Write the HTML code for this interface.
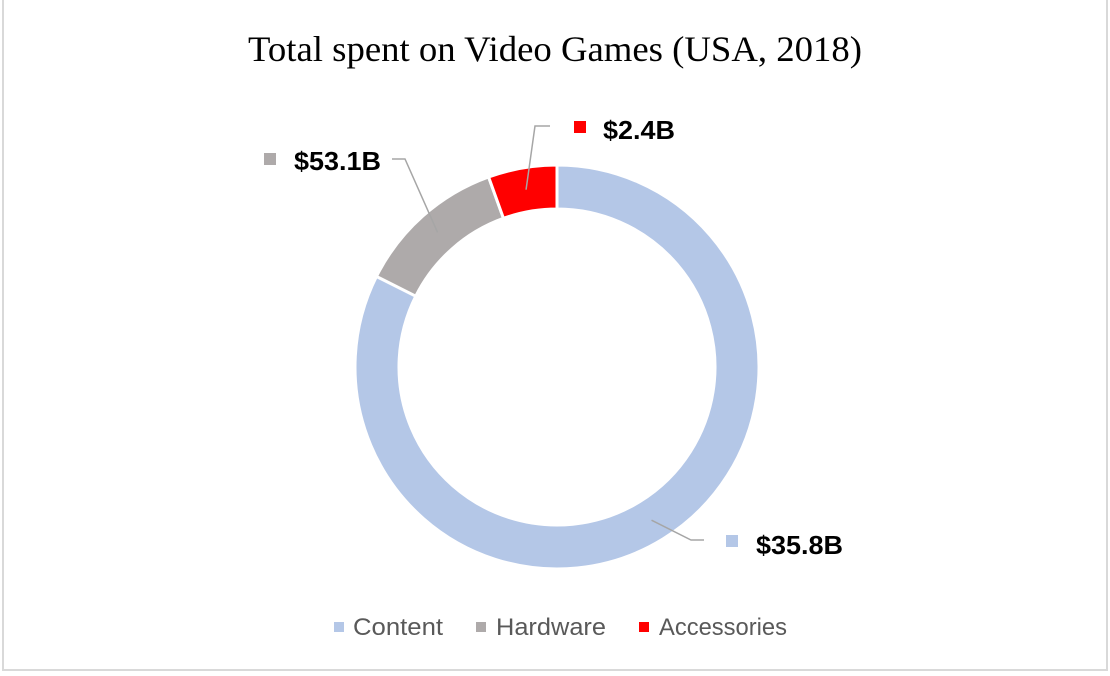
<!DOCTYPE html>
<html><head><meta charset="utf-8">
<style>
html,body{margin:0;padding:0;background:#fff;width:1110px;height:676px;overflow:hidden}
svg{display:block}
</style></head>
<body>
<svg id="chart" width="1110" height="676" viewBox="0 0 1110 676" xmlns="http://www.w3.org/2000/svg">
  <rect x="3" y="-2" width="1104" height="672" fill="#fff" stroke="#d9d9d9" stroke-width="2"/>
  <text x="248" y="61" textLength="614" lengthAdjust="spacingAndGlyphs" font-family="Liberation Serif, serif" font-size="36" fill="#000">Total spent on Video Games (USA, 2018)</text>
  <g id="slices"></g>
  <g id="leaders"></g>
  <g id="labels"></g>
  <g id="legend"></g>
</svg>
<script>
const categories = ["Content", "Hardware", "Accessories"];
const values = [82.4, 12.1, 5.5];
const labelText = ["$35.8B", "$53.1B", "$2.4B"];
const colors = ["#b4c7e7", "#aeaaaa", "#ff0000"];

const NS = "http://www.w3.org/2000/svg";
const cx = 557, cy = 367, rO = 202, rI = 158;
const total = values.reduce((a, b) => a + b, 0);
function pt(angDeg, r) {
  const a = angDeg * Math.PI / 180;
  return [cx + r * Math.sin(a), cy - r * Math.cos(a)];
}
function mk(tag, attrs, parent) {
  const e = document.createElementNS(NS, tag);
  for (const k in attrs) e.setAttribute(k, attrs[k]);
  parent.appendChild(e);
  return e;
}
const gS = document.getElementById("slices");
const gL = document.getElementById("leaders");
const gT = document.getElementById("labels");
const gG = document.getElementById("legend");

const labelPos = [
  {sq: [726, 535], tx: 756, ty: 554, w: 87},
  {sq: [264, 153], tx: 294, ty: 170, w: 87},
  {sq: [574, 121], tx: 603, ty: 139, w: 72}
];
const legendPos = [[334, 353, 90], [476, 496, 110], [639, 659, 128]];

let start = 0;
values.forEach((v, i) => {
  const sweep = v / total * 360;
  const end = start + sweep;
  const large = sweep > 180 ? 1 : 0;
  const p1 = pt(start, rO), p2 = pt(end, rO), p3 = pt(end, rI), p4 = pt(start, rI);
  const d = `M${p1[0]},${p1[1]} A${rO},${rO} 0 ${large} 1 ${p2[0]},${p2[1]} L${p3[0]},${p3[1]} A${rI},${rI} 0 ${large} 0 ${p4[0]},${p4[1]} Z`;
  const path = mk("path", {d: d, fill: colors[i], stroke: "#fff", "stroke-width": 3}, gS);
  
  

  const mid = start + sweep / 2;
  const a = pt(mid, (rO + rI) / 2);
  const L = labelPos[i];
  let elbowX, endX, y = L.sq[1] + 5;
  if (L.sq[0] > a[0]) { endX = L.sq[0] - 22; elbowX = endX - 13; }
  else { endX = L.tx + 98; elbowX = endX + 13; }
  if (i === 2) { endX = 550; elbowX = 535; y = 126; }
  if (i === 1) { endX = 392; elbowX = 405; y = 159; }
  const pl = mk("polyline", {points: `${a[0]},${a[1]} ${elbowX},${y} ${endX},${y}`, fill: "none", stroke: "#a6a6a6", "stroke-width": 1.5}, gL);
  
  

  const sq = mk("rect", {x: L.sq[0], y: L.sq[1], width: 12, height: 12, fill: colors[i]}, gT);
  
  
  const t = mk("text", {x: L.tx, y: L.ty, textLength: L.w, lengthAdjust: "spacingAndGlyphs", "font-family": "Liberation Sans, sans-serif", "font-size": 26, "font-weight": "bold", fill: "#000"}, gT);
  t.textContent = labelText[i];
  
  

  const lp = legendPos[i];
  const ls = mk("rect", {x: lp[0], y: 622, width: 10, height: 10, fill: colors[i]}, gG);
  
  
  const lt = mk("text", {x: lp[1], y: 635, textLength: lp[2], lengthAdjust: "spacingAndGlyphs", "font-family": "Liberation Sans, sans-serif", "font-size": 24, fill: "#595959"}, gG);
  lt.textContent = categories[i];
  
  

  start = end;
});
</script>
</body></html>
